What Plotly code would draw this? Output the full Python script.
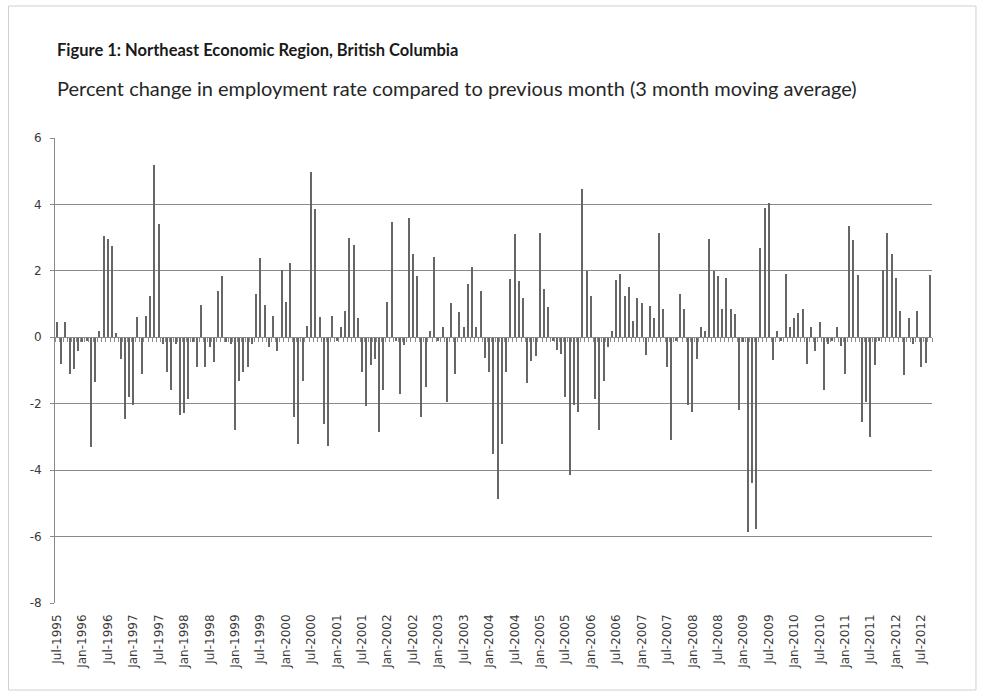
import plotly.graph_objects as go

# ---- data ----
month_names = ["Jan", "Feb", "Mar", "Apr", "May", "Jun", "Jul", "Aug", "Sep", "Oct", "Nov", "Dec"]
start_year, start_month = 1995, 7   # Jul-1995
values = [
    0.45, -0.8, 0.45, -1.1, -0.95, -0.4, -0.15, -0.1, -3.3, -1.35,
    0.2, 3.05, 2.95, 2.75, 0.12, -0.65, -2.45, -1.8, -2.05, 0.62,
    -1.1, 0.63, 1.23, 5.2, 3.4, -0.2, -1.05, -1.6, -0.2, -2.35,
    -2.28, -1.85, -0.15, -0.88, 0.97, -0.88, -0.3, -0.75, 1.4, 1.85,
    -0.15, -0.2, -2.8, -1.33, -1.05, -0.9, -0.2, 1.3, 2.4, 0.97,
    -0.3, 0.65, -0.4, 2.03, 1.07, 2.23, -2.4, -3.2, -1.33, 0.35,
    4.97, 3.87, 0.6, -2.6, -3.27, 0.63, -0.1, 0.3, 0.8, 3.0,
    2.78, 0.57, -1.05, -2.08, -0.83, -0.65, -2.86, -1.6, 1.07, 3.48,
    -0.1, -1.7, -0.23, 3.58, 2.5, 1.84, -2.4, -1.5, 0.2, 2.43,
    -0.1, 0.3, -1.96, 1.03, -1.1, 0.75, 0.3, 1.6, 2.13, 0.3,
    1.4, -0.63, -1.05, -3.52, -4.88, -3.22, -1.05, 1.74, 3.1, 1.68,
    1.17, -1.38, -0.7, -0.55, 3.13, 1.45, 0.9, -0.1, -0.37, -0.5,
    -1.8, -4.15, -2.03, -2.25, 4.45, 2.0, 1.25, -1.85, -2.8, -1.33,
    -0.3, 0.2, 1.72, 1.9, 1.25, 1.52, 0.48, 1.17, 1.03, -0.53,
    0.93, 0.58, 3.13, 0.85, -0.88, -3.1, -0.1, 1.3, 0.85, -2.03,
    -2.25, -0.65, 0.3, 0.2, 2.96, 2.0, 1.85, 0.85, 1.78, 0.85,
    0.7, -2.2, -0.15, -5.85, -4.38, -5.78, 2.7, 3.9, 4.05, -0.68,
    0.2, -0.1, 1.9, 0.3, 0.58, 0.73, 0.85, -0.8, 0.3, -0.4,
    0.47, -1.6, -0.2, -0.1, 0.3, -0.25, -1.1, 3.35, 2.93, 1.88,
    -2.56, -1.96, -3.0, -0.83, -0.1, 2.03, 3.13, 2.5, 1.78, 0.8,
    -1.15, 0.58, -0.2, 0.8, -0.88, -0.78, 1.88,
]
months = []
y, m = start_year, start_month
for _ in values:
    months.append(f"{month_names[m - 1]}-{y}")
    m += 1
    if m > 12:
        m, y = 1, y + 1
tick_labels = [lab for lab in months if lab.startswith(("Jan", "Jul"))]
y_ticks = [-8, -6, -4, -2, 0, 2, 4, 6]

title = "Figure 1: Northeast Economic Region, British Columbia"
subtitle = "Percent change in employment rate compared to previous month (3 month moving average)"

# ---- figure ----
W, H = 982, 694
L, R, T, B = 54.5, 50, 138, 91
pw, ph = W - L - R, H - T - B

def px_x(px):
    return (px - L) / pw

def px_y(py):
    return (H - B - py) / ph

bar_color = "#666666"
grid_color = "#8a8a8a"
text_color = "#3a3a3a"

fig = go.Figure()
fig.add_trace(go.Bar(x=months, y=values, marker=dict(color=bar_color, line=dict(width=0)),
                     width=0.3, showlegend=False))
fig.add_trace(go.Scatter(x=months, y=[0] * len(months), xaxis="x2", mode="markers",
                         marker=dict(opacity=0, size=1), hoverinfo="skip", showlegend=False))

fig.update_layout(
    width=W, height=H,
    margin=dict(l=L, r=R, t=T, b=B, pad=0),
    paper_bgcolor="white", plot_bgcolor="white",
    bargap=0,
    xaxis=dict(
        type="category", categoryorder="array", categoryarray=months,
        range=[-0.5, len(months) - 0.5],
        tickmode="array", tickvals=tick_labels, ticktext=tick_labels,
        tickangle=-90, ticks="", showgrid=False, showline=False, zeroline=False,
        ticklabelstandoff=8,
        tickfont=dict(family="DejaVu Sans, sans-serif", size=12, color=text_color),
    ),
    xaxis2=dict(
        type="category", categoryorder="array", categoryarray=months,
        range=[-0.5, len(months) - 0.5],
        overlaying="x", anchor="free", position=8 / 14,
        showline=True, linecolor=grid_color, linewidth=1,
        ticks="outside", tickson="boundaries", ticklen=4, tickcolor=grid_color,
        dtick=1, showticklabels=False, showgrid=False, zeroline=False,
    ),
    yaxis=dict(
        range=[-8, 6], tickvals=y_ticks, ticktext=[str(v) for v in y_ticks],
        showgrid=True, gridcolor=grid_color, gridwidth=1,
        showline=True, linecolor=grid_color, linewidth=1,
        ticks="outside", ticklen=4, tickcolor=grid_color,
        zeroline=False, ticklabelstandoff=6,
        tickfont=dict(family="DejaVu Sans, sans-serif", size=12, color=text_color),
    ),
    shapes=[dict(type="rect", xref="paper", yref="paper",
                 x0=px_x(8), x1=px_x(976), y0=px_y(690), y1=px_y(6),
                 line=dict(color="#d0d0d0", width=1), fillcolor="rgba(0,0,0,0)", layer="below")],
    annotations=[
        dict(text="<b>" + title + "</b>", xref="paper", yref="paper", x=px_x(54), y=px_y(50),
             xanchor="left", yanchor="middle", showarrow=False,
             font=dict(family="Lato, sans-serif", size=16.5, color="#1a1a1a")),
        dict(text=subtitle, xref="paper", yref="paper", x=px_x(54), y=px_y(88),
             xanchor="left", yanchor="middle", showarrow=False,
             font=dict(family="Lato, sans-serif", size=20, color="#262626")),
    ],
)

fig.write_html("out.html")
